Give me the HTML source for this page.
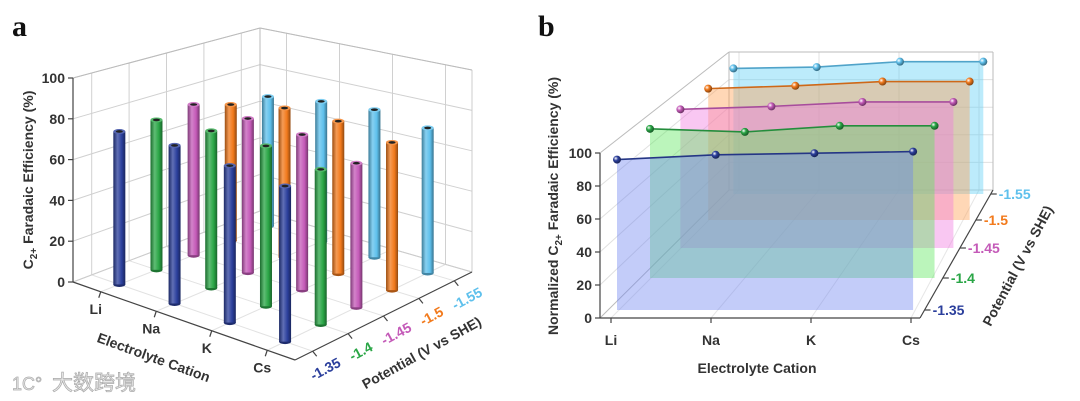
<!DOCTYPE html>
<html><head><meta charset="utf-8"><style>
html,body{margin:0;padding:0;background:#fff;}
svg{display:block;font-family:"Liberation Sans","Noto Sans CJK SC",sans-serif;}
.t{font-weight:bold;fill:#333;font-size:14px;}
</style></head><body>
<svg id="chart" width="1080" height="401" viewBox="0 0 1080 401" xmlns="http://www.w3.org/2000/svg">
<defs id="defs"></defs>
<text x="12" y="36" font-family="Liberation Serif,serif" font-weight="bold" font-size="30" fill="#111">a</text>
<text x="538" y="36" font-family="Liberation Serif,serif" font-weight="bold" font-size="30" fill="#111">b</text>
<g id="pa"></g>
<g id="pb"></g>
<text x="52" y="390" font-size="21" fill="#e8e8e8" stroke="#aaa" stroke-width="0.7">大数跨境</text>
<text x="12" y="390" font-size="18" fill="#e8e8e8" stroke="#aaa" stroke-width="0.7">1C°</text>
</svg>
<script>
const cations = ["Li","Na","K","Cs"];
const potentials = ["-1.35","-1.4","-1.45","-1.5","-1.55"];
const colors = ["#2b3f9c","#2aa646","#c45ab8","#f27a1c","#5ec0ec"];
const planeFill = ["#6f86f0","#5ee65e","#f07ae0","#ffa050","#5fd0f5"];
const feBlue = [75,76,74,72];
const feGreen = [75,77,77,73];
const feMagenta = [77,77,76,69];
const feOrange = [71,76,76,72];
const feLightBlue = [69,73,75,72];
const normBlue = [94,97,98,99];
const normGreen = [97,95,99,99];
const normMagenta = [94,96,99,99];
const normOrange = [93,95,98,98];
const normLightBlue = [93,94,98,98];
const yTicks = [0,20,40,60,80,100];
const feSeries = [feBlue,feGreen,feMagenta,feOrange,feLightBlue];
const normSeries = [normBlue,normGreen,normMagenta,normOrange,normLightBlue];

const NS="http://www.w3.org/2000/svg";
function mk(tag,attrs,parent){const e=document.createElementNS(NS,tag);for(const k in attrs)e.setAttribute(k,attrs[k]);parent.appendChild(e);return e;}
const defs=document.getElementById('defs');
function shade(hex,f){let n=parseInt(hex.slice(1),16);let r=n>>16,g=(n>>8)&255,b=n&255;const m=c=>Math.max(0,Math.min(255,Math.round(f>1?c+(255-c)*(f-1):c*f)));return `rgb(${m(r)},${m(g)},${m(b)})`;}
colors.forEach((c,i)=>{
  const g=mk('linearGradient',{id:'cg'+i,x1:'0',x2:'1',y1:'0',y2:'0'},defs);
  mk('stop',{offset:'0',"stop-color":shade(c,0.65)},g);
  mk('stop',{offset:'0.35',"stop-color":shade(c,1.25)},g);
  mk('stop',{offset:'0.7',"stop-color":c},g);
  mk('stop',{offset:'1',"stop-color":shade(c,0.6)},g);
  const r=mk('radialGradient',{id:'sg'+i,cx:'0.35',cy:'0.35',r:'0.7'},defs);
  mk('stop',{offset:'0',"stop-color":'#fff'},r);
  mk('stop',{offset:'0.4',"stop-color":c},r);
  mk('stop',{offset:'1',"stop-color":shade(c,0.5)},r);
});

/* ---------- Panel a ---------- */
const pa=document.getElementById('pa');
const L=[73,282],F=[295,360],R=[472,272],B=[260,211];
const sL=2.04,sF=2.2,sR=2.02,sB=1.83;
function bil(a,b,c,d,s,t){return (1-s)*(1-t)*a+s*(1-t)*b+s*t*c+(1-s)*t*d;}
function pA(u,p,z){const s=(u+0.5)/4,t=(p+0.5)/5;
  const x=bil(L[0],F[0],R[0],B[0],s,t),y=bil(L[1],F[1],R[1],B[1],s,t),k=bil(sL,sF,sR,sB,s,t);
  return [x,y-z*k];}
function line(g,a,b,st,w,name){const e=mk('line',{x1:a[0],y1:a[1],x2:b[0],y2:b[1],stroke:st,"stroke-width":w},g);
  
  return e;}
const gridA=mk('g',{},pa);


yTicks.forEach(v=>{
  line(gridA,pA(-0.5,-0.5,v),pA(-0.5,4.5,v),'#d0d0d0',1,'left-wall-gridline');
  line(gridA,pA(-0.5,4.5,v),pA(3.5,4.5,v),'#d0d0d0',1,'back-wall-gridline');
});
for(let p=0;p<=4;p++){line(gridA,pA(-0.5,p,0),pA(-0.5,p,100),'#d0d0d0',1,'left-wall-vline');
  line(gridA,pA(-0.5,p,0),pA(3.5,p,0),'#e2e2e2',1,'floor-gridline');}
for(let u=0;u<=3;u++){line(gridA,pA(u,4.5,0),pA(u,4.5,100),'#d0d0d0',1,'back-wall-vline');
  line(gridA,pA(u,-0.5,0),pA(u,4.5,0),'#e2e2e2',1,'floor-gridline');}
line(gridA,pA(-0.5,4.5,0),pA(-0.5,4.5,100),'#bbb',1,'back-corner-line');
line(gridA,pA(3.5,4.5,0),pA(3.5,4.5,100),'#ccc',1,'right-edge-line');
line(gridA,pA(-0.5,-0.5,100),pA(-0.5,4.5,100),'#bbb',1,'top-edge');
line(gridA,pA(-0.5,4.5,100),pA(3.5,4.5,100),'#bbb',1,'top-edge');
line(gridA,pA(-0.5,4.5,0),pA(3.5,4.5,0),'#ccc',1,'floor-edge');
line(gridA,pA(-0.5,-0.5,0),pA(-0.5,4.5,0),'#ccc',1,'floor-edge');
const axA=mk('g',{},pa);


line(axA,pA(-0.5,-0.5,0),pA(-0.5,-0.5,100),'#444',1.2,'y-axis-line');
line(axA,pA(-0.5,-0.5,0),pA(3.5,-0.5,0),'#444',1.2,'cation-axis-line');
line(axA,pA(3.5,-0.5,0),pA(3.5,4.5,0),'#444',1.2,'potential-axis-line');
yTicks.forEach(v=>{const q=pA(-0.5,-0.5,v);
  line(axA,q,[q[0]-5,q[1]],'#444',1.2,'y-tick');
  const t=mk('text',{x:q[0]-8,y:q[1]+5,"text-anchor":'end',class:'t'},axA);t.textContent=v;
  
  });
cations.forEach((c,i)=>{const q=pA(i,-0.5,0);
  line(axA,q,[q[0]-2,q[1]+6],'#444',1.2,'cation-tick');
  const t=mk('text',{x:q[0]-5,y:q[1]+22,"text-anchor":'middle',class:'t'},axA);t.textContent=c;
  
  });
potentials.forEach((pv,p)=>{const q=pA(3.5,p,0);
  line(axA,q,[q[0]+4,q[1]+5],'#444',1.2,'potential-tick');
  const t=mk('text',{x:0,y:0,"text-anchor":'middle',class:'t',transform:`translate(${q[0]+15},${q[1]+22}) rotate(-28)`},axA);
  t.style.fill=colors[p];t.textContent=pv;
  
  });
let tt=mk('text',{class:'t',"font-size":'15',"text-anchor":'middle',transform:'translate(33,180) rotate(-90)'},pa);
tt.innerHTML='C<tspan font-size="10" dy="4">2+</tspan><tspan dy="-4"> Faradaic Efficiency (%)</tspan>';


tt=mk('text',{class:'t',"font-size":'16',"text-anchor":'middle',transform:'translate(152,362) rotate(20)'},pa);tt.textContent='Electrolyte Cation';


tt=mk('text',{class:'t',"font-size":'16',"text-anchor":'middle',transform:'translate(424,357) rotate(-29)'},pa);tt.textContent='Potential (V vs SHE)';


const bars=[];
feSeries.forEach((arr,p)=>arr.forEach((v,u)=>bars.push({u,p,v})));
bars.sort((a,b)=>pA(a.u,a.p,0)[1]-pA(b.u,b.p,0)[1]);
const barG=mk('g',{},pa);


bars.forEach(b=>{
  const bot=pA(b.u,b.p,0),top=pA(b.u,b.p,b.v);const w=6;
  const g=mk('g',{},barG);
  
  
  mk('ellipse',{cx:bot[0],cy:bot[1],rx:w,ry:2.5,fill:shade(colors[b.p],0.7)},g);
  mk('rect',{x:bot[0]-w,y:top[1],width:2*w,height:bot[1]-top[1],fill:`url(#cg${b.p})`},g);
  mk('ellipse',{cx:top[0],cy:top[1],rx:w,ry:2.5,fill:shade(colors[b.p],1.2)},g);
  mk('ellipse',{cx:top[0],cy:top[1],rx:3.5,ry:1.3,fill:'#222'},g);
});

/* ---------- Panel b ---------- */
const pb=document.getElementById('pb');
const fx0=600,fy0=318,fk=1.65;
function X0(p){return 617+34.3*p-1.3*p*p;}
function Y0(p){return 310-33*p+p*p;}
function DX(p){return 98.7-3.85*p;}
function K(p){return 1.6*DX(p)/98.7;}
function pB(u,p,z){return [X0(p)+u*DX(p),Y0(p)-z*K(p)];}
const gridB=mk('g',{},pb);


const bx0=729,bx1=993,by0=190,bk=1.38;
yTicks.forEach(v=>{
  if(v>0&&v<100)line(gridB,[bx0,by0-v*bk],[bx1,by0-v*bk],'#e0e0e0',1,'back-wall-gridline');
  line(gridB,[fx0,fy0-v*fk],[bx0,by0-v*bk],v==0||v==100?'#bbb':'#e0e0e0',1,'left-wall-gridline');
});
for(let i=0;i<4;i++){const xf=611+i*100,xb=bx0+10+i*80;
  line(gridB,[xb,by0],[xb,by0-100*bk],'#e0e0e0',1,'back-wall-vline');
  line(gridB,[xf,fy0],[xb,by0],'#e6e6e6',1,'floor-gridline');}
line(gridB,[bx0,by0],[bx0,by0-100*bk],'#bbb',1,'back-wall-edge');
line(gridB,[bx0,by0-100*bk],[bx1,by0-100*bk],'#bbb',1,'back-wall-edge');
line(gridB,[bx1,by0],[bx1,by0-100*bk],'#bbb',1,'back-wall-edge');
line(gridB,[bx0,by0],[bx1,by0],'#ccc',1,'back-wall-edge');
const axB=mk('g',{},pb);


line(axB,[fx0,fy0],[fx0,fy0-100*fk],'#444',1.2,'y-axis-line');
line(axB,[fx0,fy0],[920,fy0],'#444',1.2,'cation-axis-line');
line(axB,[920,fy0],[bx1,by0],'#444',1.2,'potential-axis-line');
yTicks.forEach(v=>{const y=fy0-v*fk;
  line(axB,[fx0,y],[fx0-5,y],'#444',1.2,'y-tick');
  const t=mk('text',{x:fx0-8,y:y+5,"text-anchor":'end',class:'t'},axB);t.textContent=v;
  
  });
cations.forEach((c,i)=>{const x=611+i*100;
  line(axB,[x,fy0],[x,fy0+5],'#444',1.2,'cation-tick');
  const t=mk('text',{x:x,y:fy0+27,"text-anchor":'middle',class:'t',"font-size":'15'},axB);t.textContent=c;
  
  });
const planesG=mk('g',{},pb);


for(let p=4;p>=0;p--){
  const arr=normSeries[p];const g=mk('g',{},planesG);
  
  
  const pts=arr.map((v,u)=>pB(u,p,v));
  const poly=[pB(0,p,0),...pts,pB(3,p,0)].map(q=>q.join(',')).join(' ');
  mk('polygon',{points:poly,fill:planeFill[p],"fill-opacity":0.42},g);
  mk('polyline',{points:pts.map(q=>q.join(',')).join(' '),fill:'none',stroke:shade(colors[p],0.85),"stroke-width":1.6},g);
  pts.forEach((q,u)=>{const c=mk('circle',{cx:q[0],cy:q[1],r:4,fill:`url(#sg${p})`},g);
    
    });
  const y=Y0(p);const ex=920+(fy0-y)*(bx1-920)/(fy0-by0);
  line(axB,[ex,y],[ex+6,y],'#444',1.2,'potential-tick');
  const t=mk('text',{x:ex+8,y:y+5,class:'t',"font-size":'15'},axB);t.style.fill=colors[p];t.textContent=potentials[p];
  
  
}
tt=mk('text',{class:'t',"font-size":'15',"text-anchor":'middle',transform:'translate(558,206) rotate(-90)'},pb);
tt.innerHTML='Normalized C<tspan font-size="10" dy="4">2+</tspan><tspan dy="-4"> Faradaic Efficiency (%)</tspan>';


tt=mk('text',{class:'t',"font-size":'16',"text-anchor":'middle',x:757,y:373},pb);tt.textContent='Electrolyte Cation';


tt=mk('text',{class:'t',"font-size":'16',"text-anchor":'middle',transform:'translate(1022,268) rotate(-62)'},pb);tt.textContent='Potential (V vs SHE)';


</script>
</body></html>
